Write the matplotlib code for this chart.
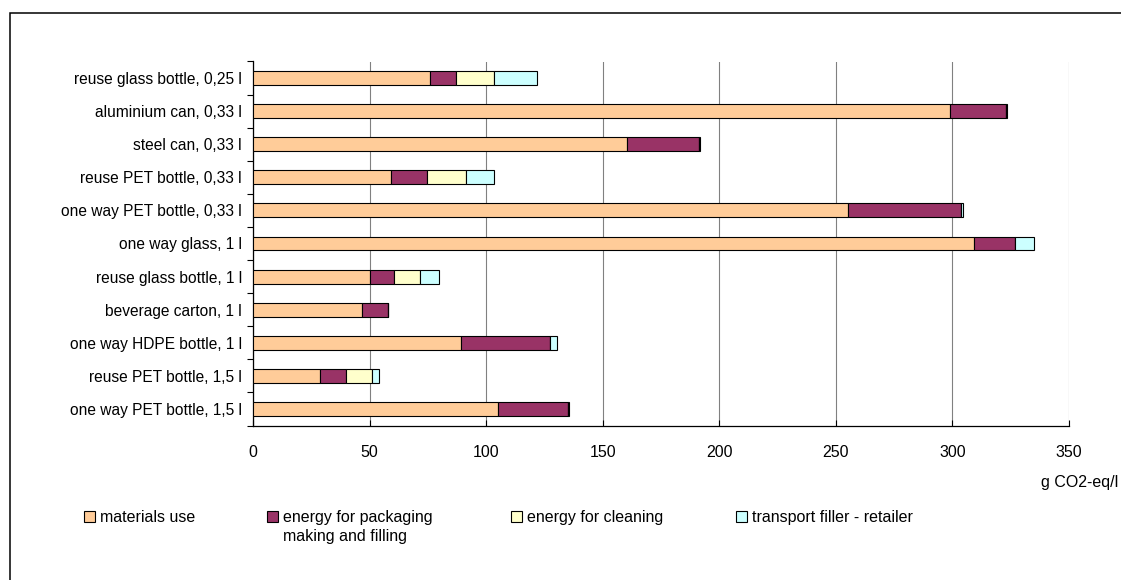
import matplotlib
matplotlib.use("Agg")
import matplotlib.pyplot as plt
import numpy as np
from matplotlib.patches import Rectangle
from matplotlib.legend_handler import HandlerPatch

plt.rcParams["font.family"] = ["Liberation Sans", "DejaVu Sans"]
plt.rcParams["font.size"] = 11.5

packages = [
    "reuse glass bottle, 0,25 l",
    "aluminium can, 0,33 l",
    "steel can, 0,33 l",
    "reuse PET bottle, 0,33 l",
    "one way PET bottle, 0,33 l",
    "one way glass, 1 l",
    "reuse glass bottle, 1 l",
    "beverage carton, 1 l",
    "one way HDPE bottle, 1 l",
    "reuse PET bottle, 1,5 l",
    "one way PET bottle, 1,5 l",
]

# g CO2-eq per litre, by life-cycle stage
materials = [75.9, 299.0, 160.5, 59.0, 255.3, 309.2, 50.3, 46.7, 89.3, 28.9, 105.3]
packaging = [11.0, 23.9, 30.8, 15.5, 48.3, 17.6, 10.0, 11.0, 38.1, 11.1, 29.9]
cleaning = [16.6, 0.0, 0.0, 16.7, 0.0, 0.0, 11.2, 0.0, 0.0, 11.2, 0.0]
transport = [18.1, 0.6, 0.6, 12.0, 0.9, 8.0, 8.1, 0.0, 2.8, 3.0, 0.4]

stages = [
    ("materials use", materials, "#FFCC99"),
    ("energy for packaging\nmaking and filling", packaging, "#993366"),
    ("energy for cleaning", cleaning, "#FFFFCC"),
    ("transport filler - retailer", transport, "#CCFFFF"),
]
legend_x = [84, 267, 511, 736]  # left edge of each legend entry, px
LINESPACING = 1.3

W, H = 1121, 580
fig = plt.figure(figsize=(W / 100, H / 100), dpi=100)
ax = fig.add_axes([253 / W, 1 - 425.5 / H, (1069 - 253) / W, (425.5 - 61.5) / H])

y = np.arange(len(packages))
left = np.zeros(len(packages))
handles = []
for label, vals, color in stages:
    vals = np.array(vals)
    b = ax.barh(y, vals, left=left, height=0.42, color=color,
                edgecolor="black", linewidth=0.8, label=label, zorder=3)
    handles.append(b.patches[0])
    left += vals

ax.set_xlim(0, 350)
ax.set_ylim(len(packages) - 0.5, -0.5)
ax.set_xticks(np.arange(0, 351, 50))
ax.set_yticks(y)
ax.set_yticklabels(packages, fontsize=11.2)
ax.set_yticks(np.arange(-0.5, len(packages)), minor=True)

ax.grid(axis="x", color="#808080", linewidth=0.8, zorder=0)
for s in ["top", "right"]:
    ax.spines[s].set_visible(False)
for s in ["left", "bottom"]:
    ax.spines[s].set_linewidth(0.9)

ax.tick_params(axis="y", which="major", length=0, pad=8)
ax.tick_params(axis="y", which="minor", length=4, width=0.8, direction="out")
ax.tick_params(axis="x", which="major", length=4, width=0.8, direction="in", pad=14)

fig.text(1118 / W, 1 - 483 / H, "g CO2-eq/l", ha="right", va="center")


def top_square(n_lines):
    # keep the legend square level with the first line of a wrapped label
    def make(legend, orig_handle, xdescent, ydescent, width, height, fontsize):
        shift = 0.5 * LINESPACING * fontsize * (n_lines - 1)
        return Rectangle((-xdescent, -ydescent + shift), width, height)
    return make


# one legend per entry so the wrapped label hangs below its first line
for (label, vals, color), h, lx in zip(stages, handles, legend_x):
    n_lines = label.count("\n") + 1
    leg = fig.legend(handles=[h], labels=[label], loc="upper left",
                     bbox_to_anchor=(lx / W, 1 - 510 / H), frameon=False,
                     borderpad=0, borderaxespad=0, handlelength=0.7,
                     handleheight=0.7, handletextpad=0.3,
                     handler_map={h: HandlerPatch(patch_func=top_square(n_lines))})
    for t in leg.get_texts():
        t.set_linespacing(LINESPACING)

# outer chart frame
fig.add_artist(Rectangle((10 / W, -0.1), 1.2, 1.1 - 12.5 / H, transform=fig.transFigure,
                         fill=False, edgecolor="black", linewidth=1.1, clip_on=False))

fig.savefig("out.png", dpi=100)
